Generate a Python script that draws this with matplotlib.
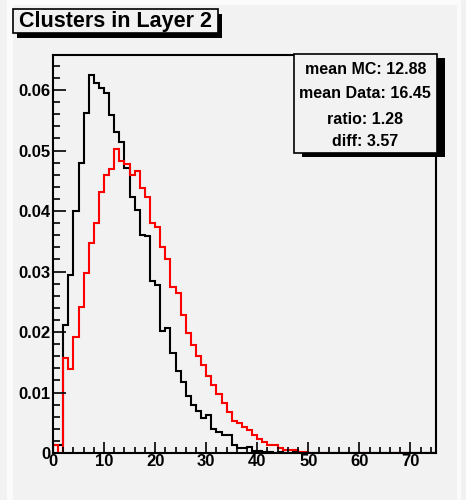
import numpy as np
import matplotlib
matplotlib.use("Agg")
import matplotlib.pyplot as plt
from matplotlib.patches import Rectangle
from matplotlib.ticker import MultipleLocator, FixedLocator

# Normalised cluster-count distributions, unit-width bins from 0 to 75
bin_edges = np.arange(0, 76)

mc_values = [
    0.0013, 0.0013, 0.0211, 0.0294, 0.0400, 0.0479, 0.0562, 0.0625, 0.0612, 0.0603,
    0.0596, 0.0559, 0.0530, 0.0514, 0.0472, 0.0424, 0.0401, 0.0360, 0.0358, 0.0285,
    0.0278, 0.0201, 0.0207, 0.0165, 0.0135, 0.0118, 0.0095, 0.0080, 0.0070, 0.0058,
    0.0062, 0.0039, 0.0035, 0.0030, 0.0030, 0.0013, 0.0008, 0.0008, 0.0010, 0.0003,
    0.0003, 0.0002, 0.0002, 0.0000, 0.0001, 0.0000, 0.0000, 0.0003, 0.0000, 0.0000,
] + [0.0] * 25

data_values = [
    0.0013, 0.0000, 0.0157, 0.0139, 0.0192, 0.0242, 0.0297, 0.0348, 0.0381, 0.0432,
    0.0460, 0.0470, 0.0503, 0.0483, 0.0477, 0.0460, 0.0467, 0.0438, 0.0424, 0.0381,
    0.0374, 0.0340, 0.0321, 0.0275, 0.0264, 0.0228, 0.0198, 0.0178, 0.0160, 0.0145,
    0.0128, 0.0112, 0.0098, 0.0082, 0.0068, 0.0053, 0.0049, 0.0043, 0.0038, 0.0030,
    0.0023, 0.0019, 0.0013, 0.0013, 0.0008, 0.0005, 0.0005, 0.0005, 0.0002, 0.0001,
] + [0.0] * 25

x_tick_values = [0, 10, 20, 30, 40, 50, 60, 70]
y_tick_values = [0, 0.01, 0.02, 0.03, 0.04, 0.05, 0.06]
y_tick_labels = ["0", "0.01", "0.02", "0.03", "0.04", "0.05", "0.06"]

title_text = "Clusters in Layer 2"
stat_lines = ["mean MC: 12.88", "mean Data: 16.45", "ratio: 1.28", "diff: 3.57"]

W, H = 466, 500
bg = "#f2f2f2"
edge_light = "#fbfbfb"
plt.rcParams["font.family"] = ["Liberation Sans", "DejaVu Sans"]

fig = plt.figure(figsize=(W / 100, H / 100), dpi=100, facecolor=bg)

def fx(px):
    return px / W

def fy(py):
    return 1 - py / H

def fig_rect(x0, y0, x1, y1, **kw):
    # rectangle given in pixel coordinates measured from the top-left corner
    r = Rectangle((fx(x0), fy(y1)), (x1 - x0) / W, (y1 - y0) / H,
                  transform=fig.transFigure, **kw)
    fig.add_artist(r)
    return r

# light canvas border
fig_rect(7, 0, 461, 5, facecolor=edge_light, lw=0)
fig_rect(7, 0, 13, 500, facecolor=edge_light, lw=0)
fig_rect(457, 0, 461, 500, facecolor=edge_light, lw=0)

ax_l, ax_r, ax_t, ax_b = 53, 436, 55, 453
ax = fig.add_axes([fx(ax_l), fy(ax_b), (ax_r - ax_l) / W, (ax_b - ax_t) / H])
ax.set_facecolor(bg)

ax.stairs(mc_values, bin_edges, color="black", linewidth=1.5)
ax.stairs(data_values, bin_edges, color="#ff0000", linewidth=1.5)

ax.set_xlim(0, 75)
ax.set_ylim(0, 0.0658)

ax.xaxis.set_major_locator(FixedLocator(x_tick_values))
ax.xaxis.set_minor_locator(MultipleLocator(2))
ax.yaxis.set_major_locator(FixedLocator(y_tick_values))
ax.yaxis.set_minor_locator(MultipleLocator(0.002))
ax.set_xticklabels([str(v) for v in x_tick_values])
ax.set_yticklabels(y_tick_labels)

ax.tick_params(which="both", direction="in", top=False, right=False, width=1.2, color="black")
ax.tick_params(axis="y", which="major", length=9)
ax.tick_params(axis="y", which="minor", length=5)
ax.tick_params(axis="x", which="major", length=8)
ax.tick_params(axis="x", which="minor", length=4)
ax.tick_params(axis="x", which="major", pad=1)
ax.tick_params(axis="y", which="major", pad=2)
for lab in ax.get_xticklabels() + ax.get_yticklabels():
    lab.set_fontweight("bold")
    lab.set_fontsize(12)

for sp in ax.spines.values():
    sp.set_linewidth(1.5)

# Title pad with drop shadow
tx0, tx1, ty0, ty1 = 12.7, 218, 9.3, 33.3
fig_rect(tx0 + 4, ty0 + 5, tx1 + 4, ty1 + 5, facecolor="black", lw=0)
fig_rect(tx0, ty0, tx1, ty1, facecolor=bg, edgecolor="black", lw=1.2)
fig.text(fx((tx0 + tx1) / 2), fy((ty0 + ty1) / 2 + 0.5), title_text, ha="center", va="center",
         fontsize=15.5, fontweight="bold")

# Statistics box with drop shadow
sx0, sx1, sy0, sy1 = 294, 436.7, 54, 153
fig_rect(sx0 + 8, sy0 + 4, sx1 + 8, sy1 + 4, facecolor="black", lw=0)
fig_rect(sx0, sy0, sx1, sy1, facecolor=bg, edgecolor="black", lw=1.2)
line_y = [69.3, 93, 119, 142]
for txt, yy in zip(stat_lines, line_y):
    fig.text(fx((sx0 + sx1) / 2), fy(yy), txt, ha="center", va="center",
             fontsize=11.5, fontweight="bold")

fig.savefig("out.png", dpi=100, facecolor=bg)
